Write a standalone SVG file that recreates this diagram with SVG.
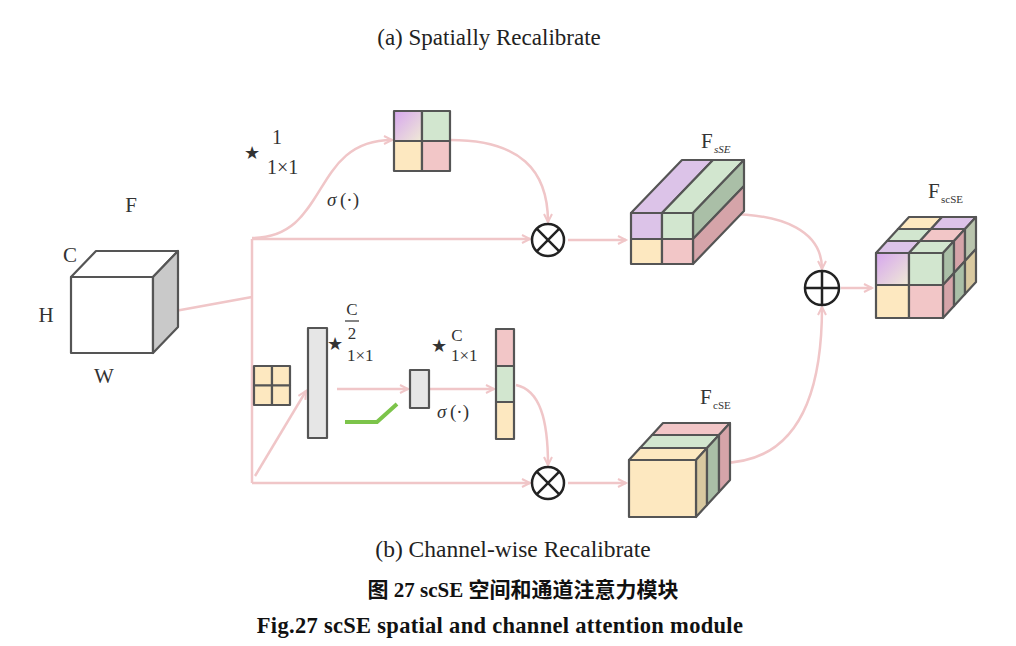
<svg xmlns="http://www.w3.org/2000/svg" width="1016" height="646" viewBox="0 0 1016 646">
<style>
.t{font-family:"Liberation Serif","Times New Roman",serif;fill:#333}
.cap{font-family:"Liberation Serif","Times New Roman",serif;fill:#222}
.bold{font-family:"Liberation Serif","Noto Sans CJK SC",serif;font-weight:bold;fill:#111}
.e{fill:none;stroke:#f0c6c8;stroke-width:2.5}
.s{stroke:#555;stroke-width:2.2;stroke-linejoin:round}
.op{fill:none;stroke:#222;stroke-width:2.5}
.pu{fill:#dcc3e8}.gr{fill:#d2e6cf}.ye{fill:#fde8c0}.pk{fill:#f2c6c7}
.dg{fill:#aabfa7}.dp{fill:#d5a4a9}.tan{fill:#d9c9a0}.gy{fill:#e6e6e6}
</style>
<defs>
<marker id="ar" markerUnits="userSpaceOnUse" markerWidth="12" markerHeight="12" refX="9" refY="5" orient="auto">
<path d="M1,1 L9,5 L1,9" fill="none" stroke="#f0c6c8" stroke-width="2"/>
</marker>
<linearGradient id="pg" x1="0" y1="0" x2="1" y2="1">
<stop offset="0" stop-color="#d6a6ee"/><stop offset="1" stop-color="#f0ead6"/>
</linearGradient>
</defs>

<text class="cap" x="489" y="45" font-size="23" text-anchor="middle">(a) Spatially Recalibrate</text>
<text class="cap" x="513" y="557" font-size="23.5" text-anchor="middle">(b) Channel-wise Recalibrate</text>
<text class="bold" x="523" y="597" font-size="21" text-anchor="middle">图 27 scSE 空间和通道注意力模块</text>
<text class="bold" x="500" y="633" font-size="22.5" letter-spacing="0.3" text-anchor="middle">Fig.27 scSE spatial and channel attention module</text>

<g id="connectors">
<path class="e" d="M153,315 L252,297"/>
<path class="e" d="M252,239 V483"/>
<path class="e" d="M252,238 C330,238 310,140 392,140" marker-end="url(#ar)"/>
<path class="e" d="M450,140 C520,140 548,170 548,222" marker-end="url(#ar)"/>
<path class="e" d="M252,239 H530" marker-end="url(#ar)"/>
<path class="e" d="M568,240 H626" marker-end="url(#ar)"/>
<path class="e" d="M727,214 C785,214 822,232 822,269" marker-end="url(#ar)"/>
<path class="e" d="M841,288 H872" marker-end="url(#ar)"/>
<path class="e" d="M720,463 C795,463 822,400 822,307" marker-end="url(#ar)"/>
<path class="e" d="M252,483 H530" marker-end="url(#ar)"/>
<path class="e" d="M255,476 L306,391" marker-end="url(#ar)"/>
<path class="e" d="M337,389 H408" marker-end="url(#ar)"/>
<path class="e" d="M429,389 H494" marker-end="url(#ar)"/>
<path class="e" d="M516,385 C540,390 548,420 548,465" marker-end="url(#ar)"/>
<path class="e" d="M568,483 H626" marker-end="url(#ar)"/>
</g>

<g id="F">
<rect class="s" x="71" y="277" width="82" height="76" fill="#fff"/>
<polygon class="s" points="71,277 96,251 178,251 153,277" fill="#fff"/>
<polygon class="s" points="153,277 178,251 178,327 153,353" fill="#c9c9c9"/>
<text class="t" x="131" y="212" font-size="21" text-anchor="middle">F</text>
<text class="t" x="70" y="262" font-size="21" text-anchor="middle">C</text>
<text class="t" x="46" y="322" font-size="21" text-anchor="middle">H</text>
<text class="t" x="104" y="383" font-size="21" text-anchor="middle">W</text>
</g>

<g id="spatial-conv-label">
<text class="t" x="252" y="159" font-size="18" text-anchor="middle" fill="#111">★</text>
<text class="t" x="272" y="144" font-size="20">1</text>
<text class="t" x="267" y="174" font-size="20">1×1</text>
<text class="t" x="327" y="206" font-size="19" font-style="italic">σ</text>
<text class="t" x="340" y="206" font-size="19">(·)</text>
</g>

<g id="spatial-map">
<rect class="s" x="394" y="111" width="28" height="30" fill="url(#pg)"/>
<rect class="s gr" x="422" y="111" width="28" height="30"/>
<rect class="s ye" x="394" y="141" width="28" height="30"/>
<rect class="s pk" x="422" y="141" width="28" height="30"/>
</g>

<g id="mul-top">
<circle class="op" cx="548" cy="240" r="16"/>
<path class="op" d="M536.7,228.7 L559.3,251.3 M559.3,228.7 L536.7,251.3"/>
</g>

<g id="FsSE">
<polygon class="s pu" points="631,213 682,160 713,160 662,213"/>
<polygon class="s gr" points="662,213 713,160 744,160 693,213"/>
<polygon class="s dg" points="693,213 744,160 744,186 693,239"/>
<polygon class="s dp" points="693,239 744,186 744,211 693,264"/>
<rect class="s pu" x="631" y="213" width="31" height="26"/>
<rect class="s gr" x="662" y="213" width="31" height="26"/>
<rect class="s ye" x="631" y="239" width="31" height="25"/>
<rect class="s pk" x="662" y="239" width="31" height="25"/>
<text class="t" x="701" y="148" font-size="21">F</text>
<text class="t" x="714" y="153" font-size="11" font-style="italic">sSE</text>
</g>

<g id="add">
<circle class="op" cx="822" cy="288" r="17"/>
<path class="op" d="M805,288 H839 M822,271 V305"/>
</g>

<g id="FscSE">
<polygon class="s pu" points="876,253 887,241 920,241 909,253"/>
<polygon class="s gr" points="909,253 920,241 954,241 943,253"/>
<polygon class="s gr" points="887,241 898,229 931,229 920,241"/>
<polygon class="s pk" points="920,241 931,229 965,229 954,241"/>
<polygon class="s ye" points="898,229 909,217 942,217 931,229"/>
<polygon class="s pu" points="931,229 942,217 976,217 965,229"/>
<polygon class="s dg" points="943,253 954,241 954,273 943,285"/>
<polygon class="s dp" points="943,285 954,273 954,306 943,318"/>
<polygon class="s dp" points="954,241 965,229 965,261 954,273"/>
<polygon class="s dg" points="954,273 965,261 965,294 954,306"/>
<polygon class="s" points="965,229 976,217 976,249 965,261" fill="#b9c4ad"/>
<polygon class="s tan" points="965,261 976,249 976,282 965,294"/>
<rect class="s" x="876" y="253" width="33" height="32" fill="url(#pg)"/>
<rect class="s gr" x="909" y="253" width="34" height="32"/>
<rect class="s ye" x="876" y="285" width="33" height="33"/>
<rect class="s pk" x="909" y="285" width="34" height="33"/>
<text class="t" x="928" y="198" font-size="21">F</text>
<text class="t" x="941" y="203" font-size="11">scSE</text>
</g>

<g id="input-grid">
<rect class="s ye" x="254" y="366" width="18" height="19.5"/>
<rect class="s ye" x="272" y="366" width="18" height="19.5"/>
<rect class="s ye" x="254" y="385.5" width="18" height="19.5"/>
<rect class="s ye" x="272" y="385.5" width="18" height="19.5"/>
</g>

<g id="conv1">
<rect class="s gy" x="308" y="328" width="19" height="110" stroke="#333"/>
<text class="t" x="335" y="350" font-size="18" text-anchor="middle" fill="#111">★</text>
<text class="t" x="352" y="315" font-size="17" text-anchor="middle">C</text>
<line x1="345" y1="321" x2="359" y2="321" stroke="#333" stroke-width="1.2"/>
<text class="t" x="352" y="339" font-size="17" text-anchor="middle">2</text>
<text class="t" x="347" y="361" font-size="17">1×1</text>
</g>

<g id="relu">
<polyline points="345,422 377,422 397,404" fill="none" stroke="#7cc44a" stroke-width="4"/>
</g>

<g id="conv2">
<rect class="s gy" x="410" y="370" width="19" height="38" stroke="#333"/>
<text class="t" x="439" y="352" font-size="18" text-anchor="middle" fill="#111">★</text>
<text class="t" x="457" y="341" font-size="17" text-anchor="middle">C</text>
<text class="t" x="451" y="361" font-size="17">1×1</text>
<text class="t" x="437" y="418" font-size="19" font-style="italic">σ</text>
<text class="t" x="450" y="418" font-size="19">(·)</text>
</g>

<g id="channel-vector">
<rect class="s pk" x="496" y="329" width="18" height="37"/>
<rect class="s gr" x="496" y="366" width="18" height="36"/>
<rect class="s ye" x="496" y="402" width="18" height="37"/>
</g>

<g id="mul-bottom">
<circle class="op" cx="548" cy="483" r="16"/>
<path class="op" d="M536.7,471.7 L559.3,494.3 M559.3,471.7 L536.7,494.3"/>
</g>

<g id="FcSE">
<polygon class="s ye" points="629,460 640,448 707,448 696,460"/>
<polygon class="s gr" points="640,448 652,435 719,435 707,448"/>
<polygon class="s pk" points="652,435 663,423 730,423 719,435"/>
<polygon class="s tan" points="696,460 707,448 707,505 696,517"/>
<polygon class="s dg" points="707,448 719,435 719,492 707,505"/>
<polygon class="s dp" points="719,435 730,423 730,480 719,492"/>
<rect class="s ye" x="629" y="460" width="67" height="57"/>
<text class="t" x="700" y="404" font-size="21">F</text>
<text class="t" x="713" y="409" font-size="11">cSE</text>
</g>
</svg>
